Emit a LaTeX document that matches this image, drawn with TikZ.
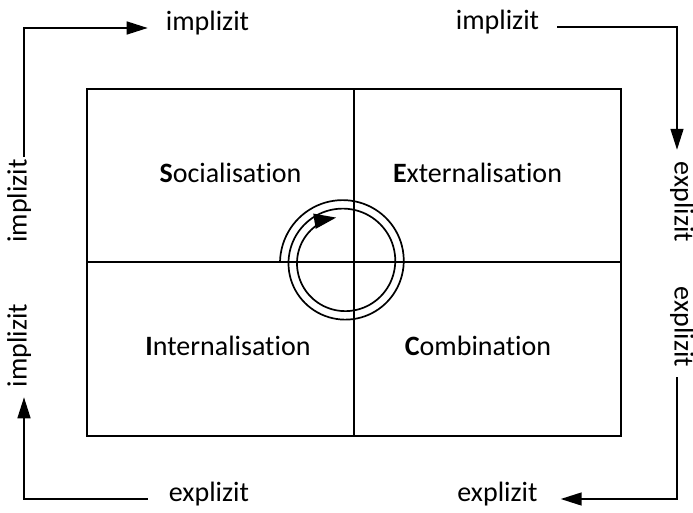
\documentclass[tikz,border=0pt]{standalone}
\usepackage{fontspec}
\setmainfont{Carlito}[Ligatures={NoCommon,NoContextual}]
\usetikzlibrary{arrows.meta}
\begin{document}
\begin{tikzpicture}[x=1pt,y=1pt,
  lbl/.style={inner sep=0pt, text height=0.7em, text depth=0.2em, font=\fontsize{28}{30}\selectfont},
  cell/.style={inner sep=0pt, anchor=base, font=\fontsize{28}{30}\selectfont},
  conn/.style={line width=1.5pt, black},
  tip/.style={-{Triangle[length=21pt,width=13pt]}},
  gridline/.style={line width=1.7pt, black}]
\useasboundingbox (0,0) rectangle (693,-513);
% grid
\draw[gridline] (87,-89) rectangle (621,-436);
\coordinate (vt) at (354,-89);
\coordinate (vb) at (354,-436);
\coordinate (hl) at (87,-262);
\coordinate (hr) at (621,-262);
\draw[gridline] (vt) -- (vb);
\draw[gridline] (hl) -- (hr);
% cell labels
\node[cell] (soc) at (230.5,-183) {\textbf{S}ocialisation};
\node[cell] (ext) at (477.5,-183) {\textbf{E}xternalisation};
\node[cell] (int) at (228,-355) {\textbf{I}nternalisation};
\node[cell] (com) at (478,-355) {\textbf{C}ombination};
% spiral
\draw[line width=1.7pt, -{Triangle[length=22pt,width=15pt]}]
  plot[domain=0:800, samples=200, smooth, variable=\t]
  ({344+(64-8.5*\t/360)*cos(180-\t)}, {-262+(64-8.5*\t/360)*sin(180-\t)});
% outer labels
\node[lbl] (tlT) at (207.5,-28) {implizit};
\node[lbl] (trT) at (497.5,-27) {implizit};
\node[lbl] (blT) at (209,-499) {explizit};
\node[lbl] (brT) at (497.5,-499) {explizit};
\node[lbl, rotate=90] (lU) at (24,-201) {implizit};
\node[lbl, rotate=90] (lL) at (24,-345.5) {implizit};
\node[lbl, rotate=-90] (rU) at (677,-202) {explizit};
\node[lbl, rotate=-90] (rL) at (677,-327) {explizit};
% connectors
\draw[conn, tip, shorten <=2pt, shorten >=18pt] (lU.east) |- (tlT.west);
\draw[conn, tip, shorten <=18pt, shorten >=12pt] (trT.east) -| (rU.west);
\draw[conn, tip, shorten <=10pt, shorten >=23pt] (rL.east) |- (brT.east);
\draw[conn, tip, shorten <=21pt, shorten >=10pt] (blT.west) -| (lL.west);
\end{tikzpicture}
\end{document}
